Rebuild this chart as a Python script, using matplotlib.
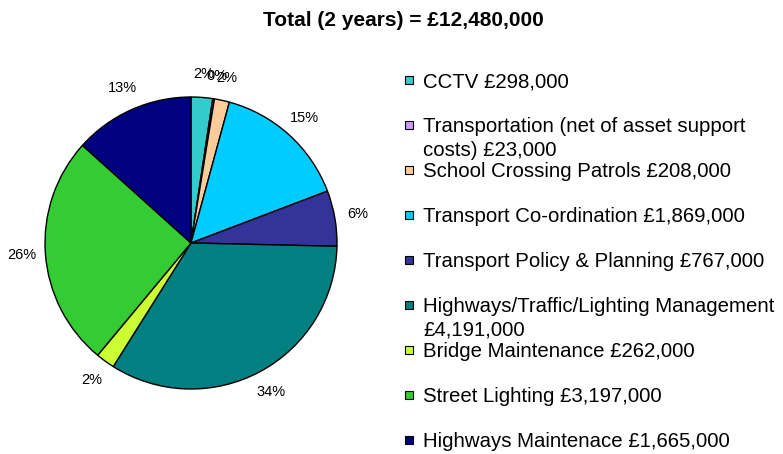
import matplotlib
matplotlib.use("Agg")
import matplotlib.pyplot as plt
from matplotlib.patches import Rectangle

plt.rcParams['font.family'] = ['Liberation Sans', 'DejaVu Sans']

categories = [
    "CCTV £298,000",
    "Transportation (net of asset support\ncosts) £23,000",
    "School Crossing Patrols £208,000",
    "Transport Co-ordination £1,869,000",
    "Transport Policy & Planning £767,000",
    "Highways/Traffic/Lighting Management\n£4,191,000",
    "Bridge Maintenance £262,000",
    "Street Lighting £3,197,000",
    "Highways Maintenace £1,665,000",
]
values = [298000, 23000, 208000, 1869000, 767000, 4191000, 262000, 3197000, 1665000]
colors = ["#33CCCC", "#CC99FF", "#FFCC99", "#00CCFF", "#333399",
          "#008080", "#CCFF33", "#33CC33", "#000080"]
title = "Total (2 years) = £12,480,000"

W, H = 783, 454
fig = plt.figure(figsize=(W / 100, H / 100), dpi=100)
ax = fig.add_axes([0, 0, 1, 1])

cx, cy, r = 191, H - 243, 146
ax.pie(values, colors=colors, startangle=90, counterclock=False,
       center=(cx, cy), radius=r,
       autopct='%.0f%%', pctdistance=1.16,
       wedgeprops=dict(edgecolor='black', linewidth=1.0),
       textprops=dict(fontsize=10.5, color='black'))
ax.set_xlim(0, W)
ax.set_ylim(0, H)
ax.set_aspect('equal')
ax.axis('off')

# legend (manual)
row0, step, line_step = 80, 45, 24
for i, (lab, col) in enumerate(zip(categories, colors)):
    yc = row0 + step * i
    nlines = lab.count("\n") + 1
    ax.add_patch(Rectangle((405, H - yc - 4), 8, 8, facecolor=col,
                           edgecolor='black', linewidth=0.8, clip_on=False))
    ax.text(423, H - (yc + 7 + (nlines - 1) * line_step), lab, fontsize=14.7,
            ha='left', va='baseline', linespacing=1.3, color='black')

ax.text(403.5, H - 26.5, title, fontsize=15, fontweight='bold',
        ha='center', va='baseline', color='black')

fig.savefig("out.png", dpi=100)
